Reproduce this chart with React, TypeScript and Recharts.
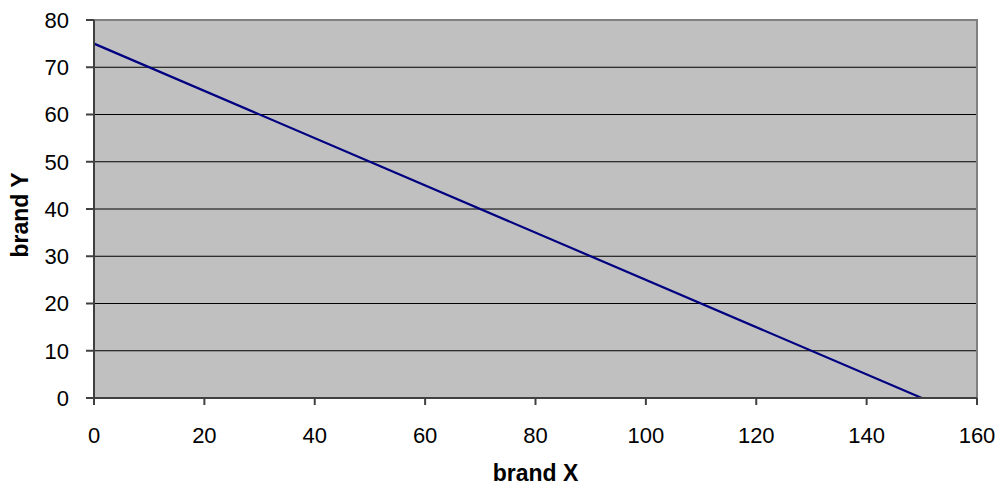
import React from "react";
import { LineChart, Line, XAxis, YAxis, CartesianGrid, ReferenceArea } from "recharts";

const brandX = [0, 150];
const brandY = [75, 0];
const xTicks = [0, 20, 40, 60, 80, 100, 120, 140, 160];
const yTicks = [0, 10, 20, 30, 40, 50, 60, 70, 80];

const data = brandX.map((x, i) => ({ x, y: brandY[i] }));

const FONT = "'Liberation Sans', Arial, sans-serif";

export default function App() {
  return (
    <div style={{ position: "absolute", left: 0, top: 0, fontFamily: FONT }}>
      <LineChart
        width={999}
        height={486}
        data={data}
        margin={{ top: 20, right: 22, left: 0, bottom: 0 }}
      >
        <CartesianGrid
          horizontal={true}
          vertical={false}
          fill="#c0c0c0"
          fillOpacity={1}
          stroke="#000000"
          strokeWidth={1}
        />
        <ReferenceArea
          x1={0}
          x2={160}
          y1={0}
          y2={80}
          fill="none"
          stroke="#808080"
          strokeWidth={2}
          ifOverflow="visible"
        />
        <XAxis
          dataKey="x"
          type="number"
          domain={[0, 160]}
          ticks={xTicks}
          interval={0}
          height={88}
          tickSize={7}
          tickMargin={22}
          stroke="#404040"
          strokeWidth={2}
          tick={{ fill: "#000", fontSize: 22, fontFamily: FONT }}
          label={{
            value: "brand X",
            position: "insideBottom",
            offset: 5,
            fill: "#000",
            fontSize: 23,
            fontWeight: "bold",
            fontFamily: FONT,
          }}
        />
        <YAxis
          type="number"
          domain={[0, 80]}
          ticks={yTicks}
          interval={0}
          width={94}
          tickSize={8}
          tickMargin={17}
          stroke="#404040"
          strokeWidth={2}
          tick={{ fill: "#000", fontSize: 22, fontFamily: FONT }}
          label={{
            value: "brand Y",
            angle: -90,
            position: "insideLeft",
            offset: 20,
            dy: 6,
            fill: "#000",
            fontSize: 23,
            fontWeight: "bold",
            fontFamily: FONT,
            style: { textAnchor: "middle" },
          }}
        />
        <Line
          type="linear"
          dataKey="y"
          stroke="#000080"
          strokeWidth={2.2}
          dot={false}
          isAnimationActive={false}
        />
      </LineChart>
    </div>
  );
}
